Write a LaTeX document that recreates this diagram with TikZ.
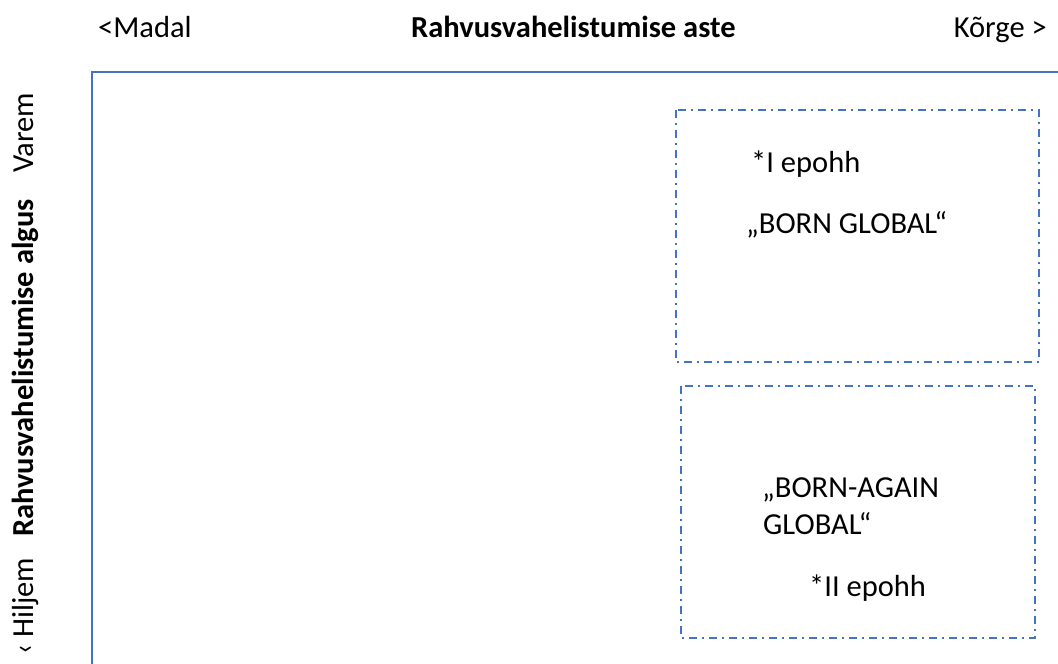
\documentclass[tikz,border=0pt]{standalone}
\usepackage{fontspec}
\setmainfont{Carlito}
\definecolor{frameblue}{HTML}{4472C4}
\tikzset{
  lbl/.style={inner sep=0pt, font=\fontsize{30.5}{36}\selectfont, text=black},
  blbl/.style={lbl, font=\fontsize{30.5}{36}\selectfont\bfseries},
  frameline/.style={draw=frameblue, line width=2.5pt},
  epochbox/.style={draw=frameblue, line width=2.5pt, dash pattern=on 8pt off 5pt on 2pt off 5pt}
}
\begin{document}
\begin{tikzpicture}[x=1pt,y=-1pt]
\useasboundingbox (0,0) rectangle (1058,664);
% axis labels
\node[lbl, anchor=base west] (madal) at (98,37) {<Madal};
\node[blbl, anchor=base west] (aste) at (411,37) {Rahvusvahelistumise aste};
\node[lbl, anchor=base east] (korge) at (1047,37) {Kõrge >};
\node[lbl, rotate=90, anchor=base west] (varem) at (33,173) {Varem};
\node[blbl, rotate=90, anchor=base west] (algus) at (33,537) {Rahvusvahelistumise algus};
\node[lbl, rotate=90, anchor=base west] (hiljem) at (33,655) {‹ Hiljem};
% frame
\coordinate (fb) at (92,664);
\coordinate (ftl) at (92,72);
\coordinate (fr) at (1058,72);
\draw[frameline] (fb) -- (ftl) -- (fr);
% epoch boxes
\draw[epochbox] (676,110) rectangle (1039,362);
\draw[epochbox] (681,386) rectangle (1035,638);
% texts
\node[lbl, anchor=base west] (ep1) at (751,172) {*I epohh};
\node[lbl, anchor=base west] (bg) at (746,233) {„BORN GLOBAL“};
\node[lbl, anchor=base west] (bag1) at (762,497) {„BORN-AGAIN};
\node[lbl, anchor=base west] (bag2) at (763,534) {GLOBAL“};
\node[lbl, anchor=base west] (ep2) at (809,596) {*II epohh};
\end{tikzpicture}
\end{document}
